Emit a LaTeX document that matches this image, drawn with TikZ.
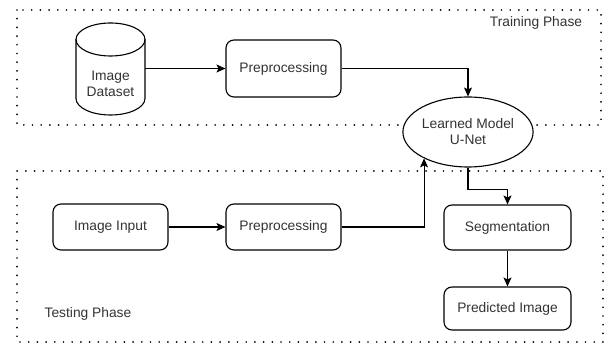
\documentclass[tikz,border=0pt]{standalone}
\usepackage{fontspec}
\setmainfont{Liberation Sans}
\usetikzlibrary{arrows.meta,shapes.geometric}

\begin{document}
\begin{tikzpicture}[x=1pt,y=-1pt,
	txt/.style={text=black!80,font=\fontsize{13.8}{16}\selectfont},
	stage/.style={txt,draw,rounded corners=8pt,line width=1.1pt,inner sep=0pt},
	phase/.style={line width=1.9pt,dash pattern=on 0pt off 8.7pt,line cap=round},
	link/.style={line width=1.1pt,-{Stealth[length=9pt,width=8pt,inset=2pt]}}]
	\useasboundingbox (0,0) rectangle (608,344);
	\draw[phase] (17,10) rectangle (601,125);
	\draw[phase] (17,171) rectangle (603,342);
	\node[txt] (train) at (536,23) {Training Phase};
	\node[txt] (test) at (88,314) {Testing Phase};
	% dataset drum
	\draw[line width=1.1pt] (76,39.5) -- (76,98.5) arc[start angle=180,end angle=360,x radius=34.5pt,y radius=16.5pt] -- (145,39.5);
	\draw[line width=1.1pt] (110.5,39.5) ellipse[x radius=34.5pt,y radius=16.5pt];
	\node[txt,align=center,minimum width=69pt,inner sep=0pt] (data) at (110.5,84) {Image\\Dataset};
	\node[stage,minimum width=115pt,minimum height=57pt] (prepa) at (283.5,68.5) {Preprocessing};
	\node[txt,draw,fill=white,ellipse,line width=1.1pt,minimum width=116pt,minimum height=70pt,inner sep=0pt,align=center] (model) at (468,132) {Learned Model\\U-Net};
	\node[stage,minimum width=115pt,minimum height=46pt] (input) at (110.5,227) {Image Input};
	\node[stage,minimum width=115pt,minimum height=46pt] (prepb) at (283.5,227) {Preprocessing};
	\node[stage,minimum width=127pt,minimum height=45pt] (seg) at (507.5,227.5) {Segmentation};
	\node[stage,minimum width=127pt,minimum height=43pt] (pred) at (507.5,308.5) {Predicted Image};
	\draw[link] (data.east |- prepa) -- (prepa);
	\draw[link] (prepa) -| (model);
	\draw[link] (input) -- (prepb);
	\draw[link] (prepb) -| (model.211);
	\draw[link] (model.south) -- ++(0,22) -| (seg);
	\draw[link] (seg) -- (pred);
\end{tikzpicture}
\end{document}
